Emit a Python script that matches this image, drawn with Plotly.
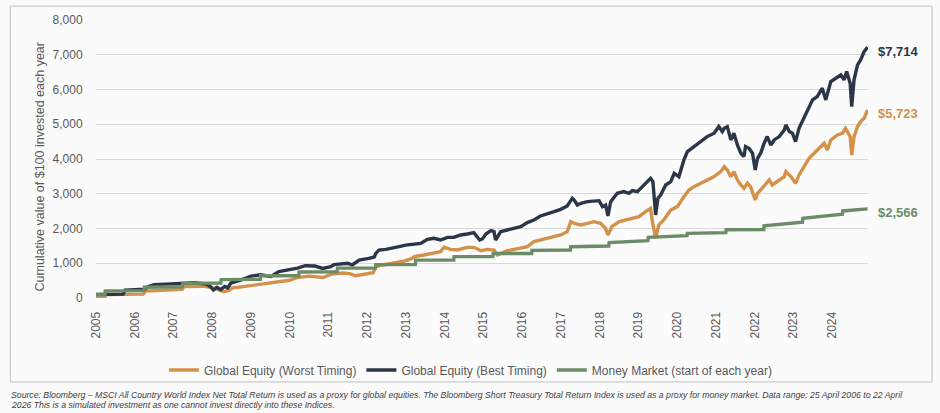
import plotly.graph_objects as go

# Werte (x = Jahr als Dezimalzahl)
years = list(range(2005, 2025))

worst_x = [2005.00, 2005.22, 2005.25, 2005.75, 2006.22, 2006.27, 2006.75, 2007.22, 2007.27, 2007.75,
           2008.00, 2008.15, 2008.30, 2008.43, 2008.52, 2008.75, 2009.00, 2009.25, 2009.50, 2009.75,
           2010.00, 2010.20, 2010.50, 2010.85, 2011.10, 2011.35, 2011.55, 2011.70, 2011.96, 2012.15,
           2012.22, 2012.39, 2012.65, 2012.91, 2013.16, 2013.21, 2013.46, 2013.72, 2013.89, 2013.98,
           2014.15, 2014.32, 2014.58, 2014.75, 2014.93, 2015.10, 2015.27, 2015.36, 2015.44, 2015.61,
           2015.79, 2015.96, 2016.13, 2016.30, 2016.47, 2016.65, 2016.82, 2016.99, 2017.16, 2017.25,
           2017.34, 2017.51, 2017.68, 2017.85, 2018.02, 2018.15, 2018.21, 2018.31, 2018.50, 2018.67,
           2018.84, 2019.01, 2019.18, 2019.31, 2019.35, 2019.44, 2019.52, 2019.65, 2019.83, 2020.00,
           2020.17, 2020.30, 2020.43, 2020.60, 2020.77, 2020.95, 2021.12, 2021.21, 2021.29, 2021.38,
           2021.46, 2021.55, 2021.64, 2021.72, 2021.81, 2021.89, 2022.01, 2022.07, 2022.15, 2022.28,
           2022.37, 2022.45, 2022.58, 2022.76, 2022.80, 2022.93, 2023.05, 2023.14, 2023.27, 2023.40,
           2023.53, 2023.66, 2023.79, 2023.87, 2023.96, 2024.13, 2024.26, 2024.34, 2024.46, 2024.50,
           2024.56, 2024.65, 2024.73, 2024.82, 2024.91]
worst_y = [0, 0, 100, 100, 110, 200, 220, 250, 330, 340,
           300, 230, 180, 220, 290, 320, 360, 400, 420, 460,
           510, 590, 630, 590, 690, 720, 700, 640, 690, 730,
           900, 950, 1000, 1050, 1140, 1190, 1238, 1285, 1333, 1458,
           1400, 1381, 1458, 1458, 1362, 1400, 1381, 1238, 1285, 1362,
           1400, 1429, 1477, 1621, 1669, 1717, 1765, 1813, 1909, 2197,
           2149, 2101, 2149, 2197, 2149, 2005, 1813, 2053, 2197, 2245,
           2293, 2341, 2485, 2581, 2245, 1718, 2101, 2245, 2533, 2629,
           2917, 3109, 3205, 3301, 3397, 3493, 3637, 3779, 3685, 3493,
           3637, 3397, 3253, 3157, 3301, 3205, 2821, 3013, 3109, 3301,
           3397, 3253, 3349, 3493, 3637, 3493, 3301, 3541, 3781, 4021,
           4165, 4309, 4453, 4261, 4549, 4693, 4741, 4885, 4645, 4117,
           4645, 4933, 5077, 5173, 5413]

best_x = [2005.00, 2005.70, 2005.75, 2006.25, 2006.35, 2006.50, 2006.80, 2007.25, 2007.55, 2007.85,
          2007.95, 2008.03, 2008.12, 2008.22, 2008.32, 2008.40, 2008.48, 2008.75, 2009.00, 2009.25,
          2009.51, 2009.72, 2009.94, 2010.20, 2010.40, 2010.65, 2010.85, 2011.06, 2011.14, 2011.31,
          2011.50, 2011.61, 2011.79, 2012.04, 2012.18, 2012.22, 2012.30, 2012.48, 2012.65, 2012.82,
          2012.99, 2013.21, 2013.38, 2013.55, 2013.72, 2013.89, 2014.07, 2014.23, 2014.41, 2014.58,
          2014.75, 2014.90, 2014.97, 2015.06, 2015.19, 2015.27, 2015.31, 2015.36, 2015.44, 2015.61,
          2015.79, 2015.96, 2016.13, 2016.30, 2016.47, 2016.65, 2016.82, 2016.99, 2017.16, 2017.29,
          2017.34, 2017.42, 2017.51, 2017.68, 2017.85, 2017.98, 2018.07, 2018.15, 2018.21, 2018.28,
          2018.45, 2018.62, 2018.75, 2018.84, 2018.97, 2019.05, 2019.18, 2019.31, 2019.37, 2019.44,
          2019.50, 2019.57, 2019.70, 2019.83, 2019.92, 2020.04, 2020.17, 2020.26, 2020.43, 2020.60,
          2020.77, 2020.95, 2021.07, 2021.16, 2021.21, 2021.29, 2021.38, 2021.46, 2021.55, 2021.64,
          2021.72, 2021.76, 2021.85, 2021.94, 2022.01, 2022.07, 2022.15, 2022.24, 2022.32, 2022.41,
          2022.50, 2022.63, 2022.76, 2022.80, 2022.89, 2022.97, 2023.05, 2023.14, 2023.27, 2023.40,
          2023.49, 2023.61, 2023.74, 2023.83, 2023.96, 2024.09, 2024.22, 2024.30, 2024.37, 2024.46,
          2024.50, 2024.56, 2024.65, 2024.73, 2024.82, 2024.91]
best_y = [100, 110, 225, 250, 330, 380, 400, 425, 440, 400,
          330, 230, 310, 240, 330, 290, 430, 520, 630, 670,
          620, 760, 800, 860, 930, 920, 850, 900, 960, 990,
          1000, 950, 1090, 1140, 1180, 1285, 1380, 1400, 1430, 1477,
          1520, 1540, 1573, 1688, 1717, 1669, 1746, 1746, 1813, 1842,
          1880, 1669, 1700, 1842, 1938, 1909, 1669, 1750, 1909, 1957,
          2006, 2054, 2169, 2245, 2360, 2437, 2485, 2552, 2648, 2869,
          2820, 2677, 2725, 2773, 2801, 2801, 2629, 2677, 2360, 2773,
          3013, 3061, 3013, 3090, 3061, 3157, 3301, 3445, 3349, 2389,
          2869, 2965, 3253, 3349, 3589, 3493, 3973, 4213, 4357, 4501,
          4645, 4741, 4933, 4789, 4883, 4931, 4549, 4741, 4405, 4165,
          4069, 4357, 4309, 4165, 3685, 4021, 4165, 4453, 4645, 4405,
          4549, 4645, 4837, 4981, 4789, 4741, 4501, 4885, 5173, 5461,
          5701, 5797, 6037, 5701, 6229, 6325, 6421, 6277, 6517, 6181,
          5509, 6277, 6709, 6853, 7093, 7218]

mm_x = [2005.00, 2005.23, 2005.24, 2006.24, 2006.25, 2007.23, 2007.24, 2008.22, 2008.23, 2009.24,
        2009.25, 2010.23, 2010.24, 2011.22, 2011.23, 2012.21, 2012.22, 2013.24, 2013.25, 2014.23,
        2014.24, 2015.24, 2015.25, 2016.24, 2016.25, 2017.24, 2017.25, 2018.23, 2018.24, 2019.24,
        2019.25, 2020.25, 2020.26, 2021.25, 2021.26, 2022.23, 2022.24, 2023.23, 2023.24, 2024.26,
        2024.27, 2024.91]
mm_y = [100, 102, 205, 212, 310, 322, 420, 430, 530, 536,
        640, 642, 750, 752, 860, 862, 960, 965, 1090, 1092,
        1190, 1192, 1280, 1282, 1370, 1380, 1475, 1497, 1595, 1650,
        1745, 1794, 1860, 1880, 1965, 1970, 2080, 2180, 2295, 2410,
        2505, 2566]

series_names = ["Global Equity (Worst Timing)", "Global Equity (Best Timing)",
                "Money Market (start of each year)"]
end_labels = ["$5,723", "$7,714", "$2,566"]
colors = ["#D4914A", "#2B3648", "#6A8C66"]

fig = go.Figure()
fig.add_trace(go.Scatter(x=worst_x, y=worst_y, mode="lines", name=series_names[0],
                         line=dict(color=colors[0], width=3.4)))
fig.add_trace(go.Scatter(x=best_x, y=best_y, mode="lines", name=series_names[1],
                         line=dict(color=colors[1], width=3.4)))
fig.add_trace(go.Scatter(x=mm_x, y=mm_y, mode="lines", name=series_names[2],
                         line=dict(color=colors[2], width=3.4)))

# Endbeschriftungen rechts
last_vals = [worst_y[-1], best_y[-1], mm_y[-1]]
for lbl, val, col in zip(end_labels, last_vals, colors):
    fig.add_annotation(x=1, xref="paper", y=val, yref="y", text="<b>" + lbl + "</b>",
                       showarrow=False, xanchor="left", xshift=8, yshift=-4,
                       font=dict(family="Liberation Sans, Arial", size=13, color=col))

# Y-Achsentitel
fig.add_annotation(x=-0.084, xref="paper", y=0.47, yref="paper", textangle=-90,
                   text="Cumulative value of $100 invested each year", showarrow=False,
                   font=dict(family="Liberation Sans, Arial", size=12.5, color="#595959"))

# Quellenangabe
fig.add_annotation(x=-0.113, xref="paper", y=-0.349, yref="paper", xanchor="left", yanchor="middle",
                   text="<i>Source: Bloomberg – MSCI All Country World Index Net Total Return is used as a proxy for global equities. "
                        "The Bloomberg Short Treasury Total Return Index is used as a proxy for money market. "
                        "Data range: 25 April 2006 to 22 April</i>",
                   showarrow=False, font=dict(family="Liberation Sans Narrow, Liberation Sans", size=8.7, color="#404040"))
fig.add_annotation(x=-0.113, xref="paper", y=-0.385, yref="paper", xanchor="left", yanchor="middle",
                   text="<i>2026 This is a simulated investment as one cannot invest directly into these Indices.</i>",
                   showarrow=False, font=dict(family="Liberation Sans Narrow, Liberation Sans", size=8.7, color="#404040"))

# Rahmen
fig.add_shape(type="rect", xref="paper", yref="paper", x0=-0.111, x1=1.083, y0=-0.302, y1=1.050,
              line=dict(color="#BFBFBF", width=1), fillcolor="rgba(0,0,0,0)", layer="below")

fig.update_layout(
    width=940, height=413,
    margin=dict(l=96, r=72, t=20, b=115),
    paper_bgcolor="#FBFBFB", plot_bgcolor="#FBFBFB",
    font=dict(family="Liberation Sans, Arial", color="#595959"),
    showlegend=True,
    legend=dict(orientation="h", x=0.485, xanchor="center", y=-0.259, yanchor="middle",
                font=dict(size=12, color="#595959"), itemwidth=30, bgcolor="rgba(0,0,0,0)"),
)
fig.update_xaxes(range=[2005, 2024.92], tickvals=years, ticktext=[str(y) for y in years],
                 tickangle=-90, showgrid=False, zeroline=False, showline=False,
                 ticks="outside", ticklen=8, tickcolor="rgba(0,0,0,0)",
                 tickfont=dict(size=12, color="#595959"))
fig.update_yaxes(range=[0, 8000], dtick=1000, tickformat=",d", showgrid=True, gridcolor="#D9D9D9",
                 gridwidth=1, zeroline=False, showline=False,
                 ticks="outside", ticklen=10, tickcolor="rgba(0,0,0,0)",
                 tickfont=dict(size=12, color="#595959"))

# Seitenrand des Browsers entfernen, damit die Grafik bei (0,0) beginnt
fig.write_html("out.html", config={"displayModeBar": False},
               post_script="document.body.style.margin='0';")
